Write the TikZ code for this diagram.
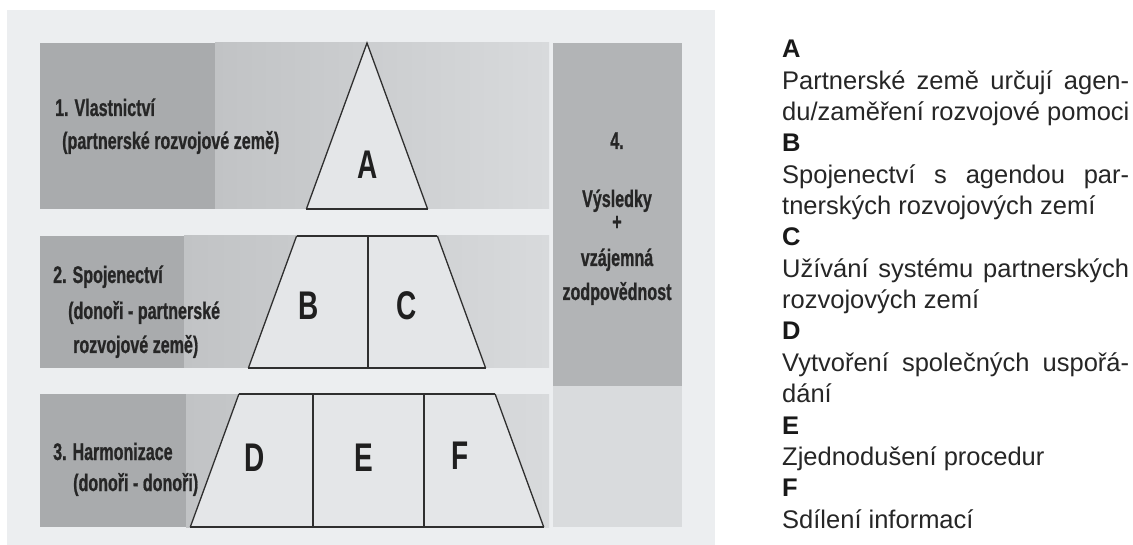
\documentclass[tikz,border=0pt]{standalone}
\usepackage{fontspec}
\setmainfont{Liberation Sans}
\newfontfamily\condfont[FakeStretch=0.67,FakeBold=0.8]{Liberation Sans}
\newfontfamily\letterfont[FakeStretch=0.7]{Liberation Sans}

\definecolor{panelbg}{HTML}{ECEEF0}
\definecolor{banddark}{HTML}{A9ABAD}
\definecolor{bandmid}{HTML}{C1C3C5}
\definecolor{bandlight}{HTML}{D8DADC}
\definecolor{coltop}{HTML}{B2B4B6}
\definecolor{colbottom}{HTML}{D9DBDD}
\definecolor{pyrfill}{HTML}{E4E6E8}
\definecolor{edgecol}{HTML}{2F2F2F}
\definecolor{labeltext}{HTML}{262626}

\begin{document}
\begin{tikzpicture}[x=1pt,y=-1pt,
  bandlabel/.style={anchor=base west, inner sep=0pt, text=labeltext,
    font=\condfont\bfseries\fontsize{24}{27}\selectfont},
  collabel/.style={anchor=base, inner sep=0pt, text=labeltext,
    font=\condfont\bfseries\fontsize{24}{27}\selectfont},
  bigletter/.style={inner sep=0pt, text=black!88,
    font=\letterfont\bfseries\fontsize{40}{44}\selectfont},
  legendhead/.style={anchor=base west, inner sep=0pt, text=black!90,
    font=\bfseries\fontsize{25.5}{31}\selectfont},
  legendline/.style={anchor=base west, inner sep=0pt, text=black!85,
    font=\fontsize{25.5}{31}\selectfont},
  slant/.style={draw=edgecol, line width=1.3pt},
  divider/.style={draw=edgecol, line width=1.3pt},
  topbar/.style={draw=edgecol, line width=2pt},
  basebar/.style={draw=edgecol, line width=2.6pt}]

\useasboundingbox (0,0) rectangle (1133,545);
\fill[white] (0,0) rectangle (1133,545);

% light panel behind the pyramid
\fill[panelbg] (7,10) rectangle (715,545);

% three horizontal bands: dark left part, graded right part
\fill[banddark] (40,43) rectangle (215,209);
\shade[left color=bandmid, right color=bandlight] (215,43) rectangle (549,209);
\fill[banddark] (40,236) rectangle (184,368);
\shade[left color=bandmid, right color=bandlight] (184,236) rectangle (549,368);
\fill[banddark] (40,394) rectangle (186,527);
\shade[left color=bandmid, right color=bandlight] (186,394) rectangle (549,527);

% column 4
\fill[coltop] (553,43) rectangle (682,386);
\fill[colbottom] (553,386) rectangle (682,527);

% pyramid corner points
\coordinate (apex) at (367,43);
\coordinate (t1l) at (306.4,209);  \coordinate (t1r) at (427.6,209);
\coordinate (t2tl) at (296.6,236); \coordinate (t2tr) at (437.4,236);
\coordinate (t2bl) at (248.4,368); \coordinate (t2br) at (485.6,368);
\coordinate (t3tl) at (238.9,394); \coordinate (t3tr) at (495.1,394);
\coordinate (t3bl) at (190.3,527); \coordinate (t3br) at (543.7,527);

% level 1: triangle A
\fill[pyrfill] (apex) -- (t1r) -- (t1l) -- cycle;
\draw[slant] (t1l) -- (apex) -- (t1r);
\draw[basebar] (t1l) -- (t1r);

% level 2: trapezoid B | C
\fill[pyrfill] (t2tl) -- (t2tr) -- (t2br) -- (t2bl) -- cycle;
\draw[slant] (t2tl) -- (t2bl) (t2tr) -- (t2br);
\draw[topbar] (t2tl) -- (t2tr);
\draw[basebar] (t2bl) -- (t2br);
\draw[divider] (368,236) -- (368,368);

% level 3: trapezoid D | E | F
\fill[pyrfill] (t3tl) -- (t3tr) -- (t3br) -- (t3bl) -- cycle;
\draw[slant] (t3tl) -- (t3bl) (t3tr) -- (t3br);
\draw[topbar] (t3tl) -- (t3tr);
\draw[basebar] (t3bl) -- (t3br);
\draw[divider] (313,394) -- (313,527);
\draw[divider] (424,394) -- (424,527);

% letters inside the pyramid
\node[bigletter] (pA) at (368,165) {A};
\node[bigletter] (pB) at (309,306) {B};
\node[bigletter] (pC) at (407,306) {C};
\node[bigletter] (pD) at (255,458) {D};
\node[bigletter] (pE) at (364,458) {E};
\node[bigletter] (pF) at (460,456) {F};

% band labels
\node[bandlabel] (l1a) at (55,116) {1. Vlastnictví};
\node[bandlabel] (l1b) at (62,149) {(partnerské rozvojové země)};
\node[bandlabel] (l2a) at (53,283) {2. Spojenectví};
\node[bandlabel] (l2b) at (68,319) {(donoři - partnerské};
\node[bandlabel] (l2c) at (73,353) {rozvojové země)};
\node[bandlabel] (l3a) at (53,460) {3. Harmonizace};
\node[bandlabel] (l3b) at (73,491) {(donoři - donoři)};

% column 4 label
\node[collabel] (c4a) at (617,149) {4.};
\node[collabel] (c4b) at (617,207) {Výsledky};
\node[collabel] (c4c) at (617,230) {+};
\node[collabel] (c4d) at (617,266) {vzájemná};
\node[collabel] (c4e) at (617,300) {zodpovědnost};

% legend
\node[legendhead] (gA)  at (782,58.0)  {A};
\node[legendline] (gA1) at (782,89.3)  {\makebox[347pt][s]{Partnerské země určují agen-}};
\node[legendline] (gA2) at (782,120.7) {du/zaměření rozvojové pomoci};
\node[legendhead] (gB)  at (782,152.0) {B};
\node[legendline] (gB1) at (782,183.3) {\makebox[347pt][s]{Spojenectví s agendou par-}};
\node[legendline] (gB2) at (782,214.7) {tnerských rozvojových zemí};
\node[legendhead] (gC)  at (782,246.0) {C};
\node[legendline] (gC1) at (782,277.3) {\makebox[347pt][s]{Užívání systému partnerských}};
\node[legendline] (gC2) at (782,308.7) {rozvojových zemí};
\node[legendhead] (gD)  at (782,340.0) {D};
\node[legendline] (gD1) at (782,371.3) {\makebox[347pt][s]{Vytvoření společných uspořá-}};
\node[legendline] (gD2) at (782,402.7) {dání};
\node[legendhead] (gE)  at (782,434.0) {E};
\node[legendline] (gE1) at (782,465.3) {Zjednodušení procedur};
\node[legendhead] (gF)  at (782,496.7) {F};
\node[legendline] (gF1) at (782,528.0) {Sdílení informací};
\end{tikzpicture}
\end{document}
